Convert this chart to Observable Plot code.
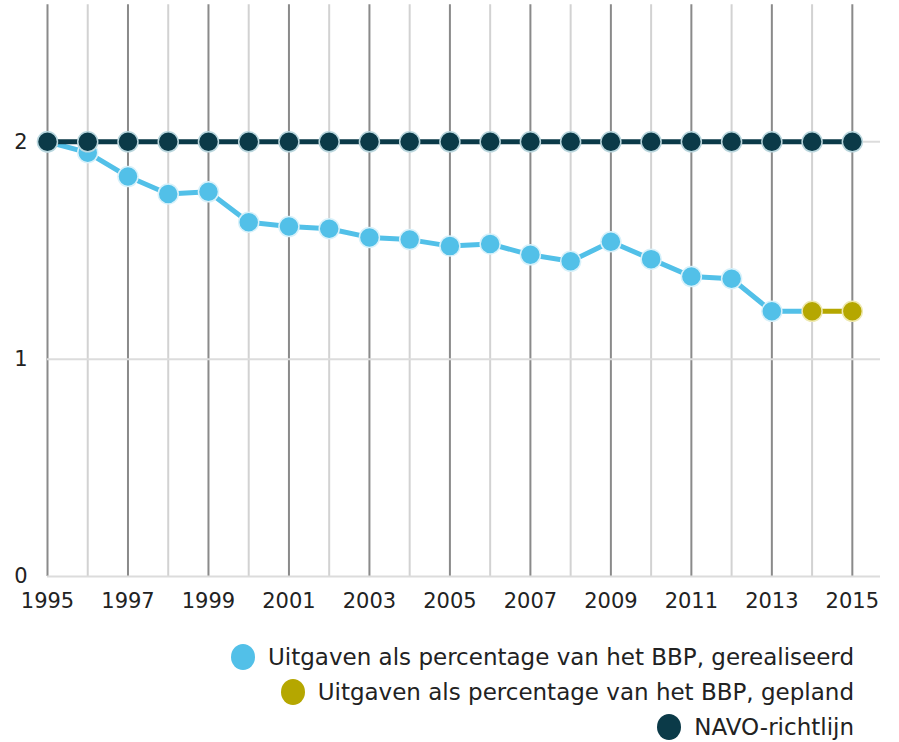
<!DOCTYPE html>
<html><head><meta charset="utf-8">
<script src="https://cdn.jsdelivr.net/npm/d3@7"></script>
<script src="https://cdn.jsdelivr.net/npm/@observablehq/plot@0.6"></script>
<style>
body{margin:0;background:#fff;font-family:"DejaVu Sans",Verdana,sans-serif;}
#chart svg text{font-size:21px;fill:#222;}
#legend{width:899px;box-sizing:border-box;padding-right:45px;margin-top:19px;}
.row{display:flex;justify-content:flex-end;align-items:center;height:35px;font-size:23px;color:#222;white-space:nowrap;}
.dot{width:24px;height:26px;border-radius:50%;margin-right:13px;flex:none;}
</style></head><body>
<div id="chart"></div>
<div id="legend"></div>
<script>
const years = d3.range(1995, 2016);
const realisedYears = [1995,1996,1997,1998,1999,2000,2001,2002,2003,2004,2005,2006,2007,2008,2009,2010,2011,2012,2013];
const realisedValues = [2.0,1.95,1.84,1.76,1.77,1.63,1.61,1.60,1.56,1.55,1.52,1.53,1.48,1.45,1.54,1.46,1.38,1.37,1.22];
const plannedYears = [2014,2015];
const plannedValues = [1.22,1.22];
const navoValues = years.map(() => 2.0);
const xTicks = [1995,1997,1999,2001,2003,2005,2007,2009,2011,2013,2015];
const yTicks = [0,1,2];
const seriesNames = ["Uitgaven als percentage van het BBP, gerealiseerd","Uitgaven als percentage van het BBP, gepland","NAVO-richtlijn"];
const colors = ["#52c0e8","#b5a700","#0b3a48"];

const realised = realisedYears.map((y,i)=>({year:y,value:realisedValues[i]}));
const planned = plannedYears.map((y,i)=>({year:y,value:plannedValues[i]}));
const navo = years.map((y,i)=>({year:y,value:navoValues[i]}));
const connector = [realised[realised.length-1], planned[0]];

const chart = Plot.plot({
  width: 899, height: 620,
  marginLeft: 47, marginRight: 19, marginTop: 0, marginBottom: 44,
  x: {domain:[1995, 2015.7], label:null},
  y: {domain:[0, 2.65], label:null},
  style: {fontFamily:'"DejaVu Sans",Verdana,sans-serif', fontSize:"21px", color:"#222"},
  marks: [
    Plot.ruleX(years, {x:d=>d, y1:0, y2:2.63, stroke:d=>d%2===1?"#8a8a8a":"#d2d2d2", strokeWidth:2}),
    Plot.ruleY(yTicks, {y:d=>d, stroke:"#dcdcdc", strokeWidth:2}),
    Plot.axisX(xTicks, {tickSize:0, tickPadding:17, tickFormat:d=>String(d), label:null}),
    Plot.axisY(yTicks, {tickSize:0, tickPadding:20, tickFormat:d=>String(d), label:null}),
    Plot.line(realised, {x:"year", y:"value", stroke:colors[0], strokeWidth:5}),
    Plot.line(connector, {x:"year", y:"value", stroke:colors[0], strokeWidth:5}),
    Plot.line(planned, {x:"year", y:"value", stroke:colors[1], strokeWidth:5}),
    Plot.dot(realised, {x:"year", y:"value", r:10, fill:colors[0], stroke:"#d8f1fa", strokeWidth:1.5}),
    Plot.dot(planned, {x:"year", y:"value", r:10, fill:colors[1], stroke:"#eee9b0", strokeWidth:1.5}),
    Plot.line(navo, {x:"year", y:"value", stroke:colors[2], strokeWidth:5}),
    Plot.dot(navo, {x:"year", y:"value", r:10, fill:colors[2], stroke:"#b9d6dd", strokeWidth:1.5})
  ]
});
document.getElementById("chart").append(chart);

const legend = document.getElementById("legend");
seriesNames.forEach((name,i)=>{
  const row = document.createElement("div");
  row.className = "row";
  const dot = document.createElement("span");
  dot.className = "dot";
  dot.style.background = colors[i];
  const txt = document.createElement("span");
  txt.textContent = name;
  row.append(dot, txt);
  legend.append(row);
});
</script>
</body></html>
